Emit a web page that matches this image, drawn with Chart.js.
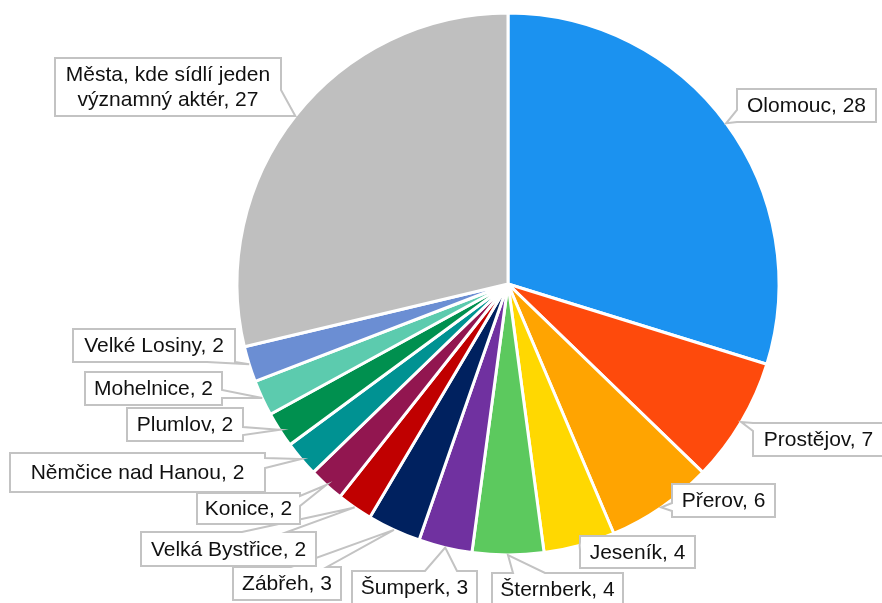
<!DOCTYPE html>
<html>
<head>
<meta charset="utf-8">
<script src="https://cdn.jsdelivr.net/npm/chart.js@4"></script>
<style>
  html, body { margin: 0; padding: 0; background: #ffffff; }
  #graf { display: block; }
</style>
</head>
<body>
<canvas id="graf" width="882" height="603"></canvas>
<script>
// ---- data ----
const kategorie = [
    'Olomouc', 'Prostějov', 'Přerov', 'Jeseník', 'Šternberk', 'Šumperk', 'Zábřeh',
    'Velká Bystřice', 'Konice', 'Němčice nad Hanou', 'Plumlov', 'Mohelnice',
    'Velké Losiny', 'Města, kde sídlí jeden významný aktér'
];
const hodnoty = [28, 7, 6, 4, 4, 3, 3, 2, 2, 2, 2, 2, 2, 27];
const barvy = [
    '#1b92f0', '#fe4a0c', '#ffa401', '#ffd801', '#5cc95e', '#7031a0', '#00215f',
    '#c00000', '#921650', '#009292', '#00904f', '#5ccbae', '#6b8ed3', '#bfbfbf'
];

// rozložení popisků: [x, y, šířka, výška, strana šipky, začátek, konec]
const popisky = [
    [737, 89, 139, 33, 'left', 21, 33],
    [753, 423, 131, 33, 'left', 0, 8],
    [672, 484, 103, 33, 'left', 19, 27],
    [580, 536, 115, 32, 'left', 6, 14],
    [492, 573, 131, 33, 'top', 21, 53],
    [352, 571, 125, 33, 'top', 73, 105],
    [233, 567, 108, 33, 'top', 58, 94],
    [141, 532, 175, 34, 'top', 101, 146],
    [197, 493, 103, 31, 'right', 3, 13],
    [10, 453, 255, 39, 'right', 5, 15],
    [127, 408, 116, 33, 'right', 19, 27],
    [85, 372, 137, 33, 'right', 18, 26],
    [73, 329, 162, 33, 'bottom', 134, 162],
    [55, 58, 226, 58, 'right', 32, 58]
];

function zalamat(ctx, text, sirka) {
    const slova = text.split(' ');
    const radky = [];
    let akt = '';
    slova.forEach(s => {
        const zkus = akt ? akt + ' ' + s : s;
        if (akt && ctx.measureText(zkus).width > sirka) {
            radky.push(akt);
            akt = s;
        } else {
            akt = zkus;
        }
    });
    if (akt) radky.push(akt);
    return radky;
}

const popiskyPlugin = {
    id: 'popisky',
    afterDraw(chart) {
        const ctx = chart.ctx;
        const oblouky = chart.getDatasetMeta(0).data;
        ctx.save();
        ctx.font = '21px "Liberation Sans", Arial, sans-serif';
        oblouky.forEach((arc, i) => {
            const p = arc.getProps(['x', 'y', 'startAngle', 'endAngle', 'outerRadius'], true);
            const uhel = (p.startAngle + p.endAngle) / 2;
            const tx = p.x + Math.cos(uhel) * p.outerRadius;
            const ty = p.y + Math.sin(uhel) * p.outerRadius;
            const [x, y, w, h, strana, a, b] = popisky[i];

            ctx.beginPath();
            ctx.moveTo(x, y);
            if (strana === 'top') { ctx.lineTo(x + a, y); ctx.lineTo(tx, ty); ctx.lineTo(x + b, y); }
            ctx.lineTo(x + w, y);
            if (strana === 'right') { ctx.lineTo(x + w, y + a); ctx.lineTo(tx, ty); ctx.lineTo(x + w, y + b); }
            ctx.lineTo(x + w, y + h);
            if (strana === 'bottom') { ctx.lineTo(x + b, y + h); ctx.lineTo(tx, ty); ctx.lineTo(x + a, y + h); }
            ctx.lineTo(x, y + h);
            if (strana === 'left') { ctx.lineTo(x, y + b); ctx.lineTo(tx, ty); ctx.lineTo(x, y + a); }
            ctx.closePath();
            ctx.fillStyle = '#ffffff';
            ctx.fill();
            ctx.lineWidth = 2;
            ctx.strokeStyle = '#c3c3c3';
            ctx.lineJoin = 'miter';
            ctx.stroke();

            const text = kategorie[i] + ', ' + hodnoty[i];
            const radky = zalamat(ctx, text, w - 6);
            const vyskaRadku = 25;
            ctx.fillStyle = '#111111';
            ctx.textAlign = 'center';
            ctx.textBaseline = 'middle';
            const y0 = y + h / 2 - (radky.length - 1) * vyskaRadku / 2 + 1;
            radky.forEach((r, j) => ctx.fillText(r, x + w / 2, y0 + j * vyskaRadku));
        });
        ctx.restore();
    }
};

new Chart(document.getElementById('graf'), {
    type: 'pie',
    data: {
        labels: kategorie,
        datasets: [{
            data: hodnoty,
            backgroundColor: barvy,
            borderColor: '#ffffff',
            borderWidth: 3
        }]
    },
    options: {
        responsive: false,
        animation: false,
        layout: { padding: { left: 235.5, right: 101.5, top: 11.5, bottom: 46.5 } },
        plugins: {
            legend: { display: false },
            tooltip: { enabled: false }
        }
    },
    plugins: [popiskyPlugin]
});
</script>
</body>
</html>
